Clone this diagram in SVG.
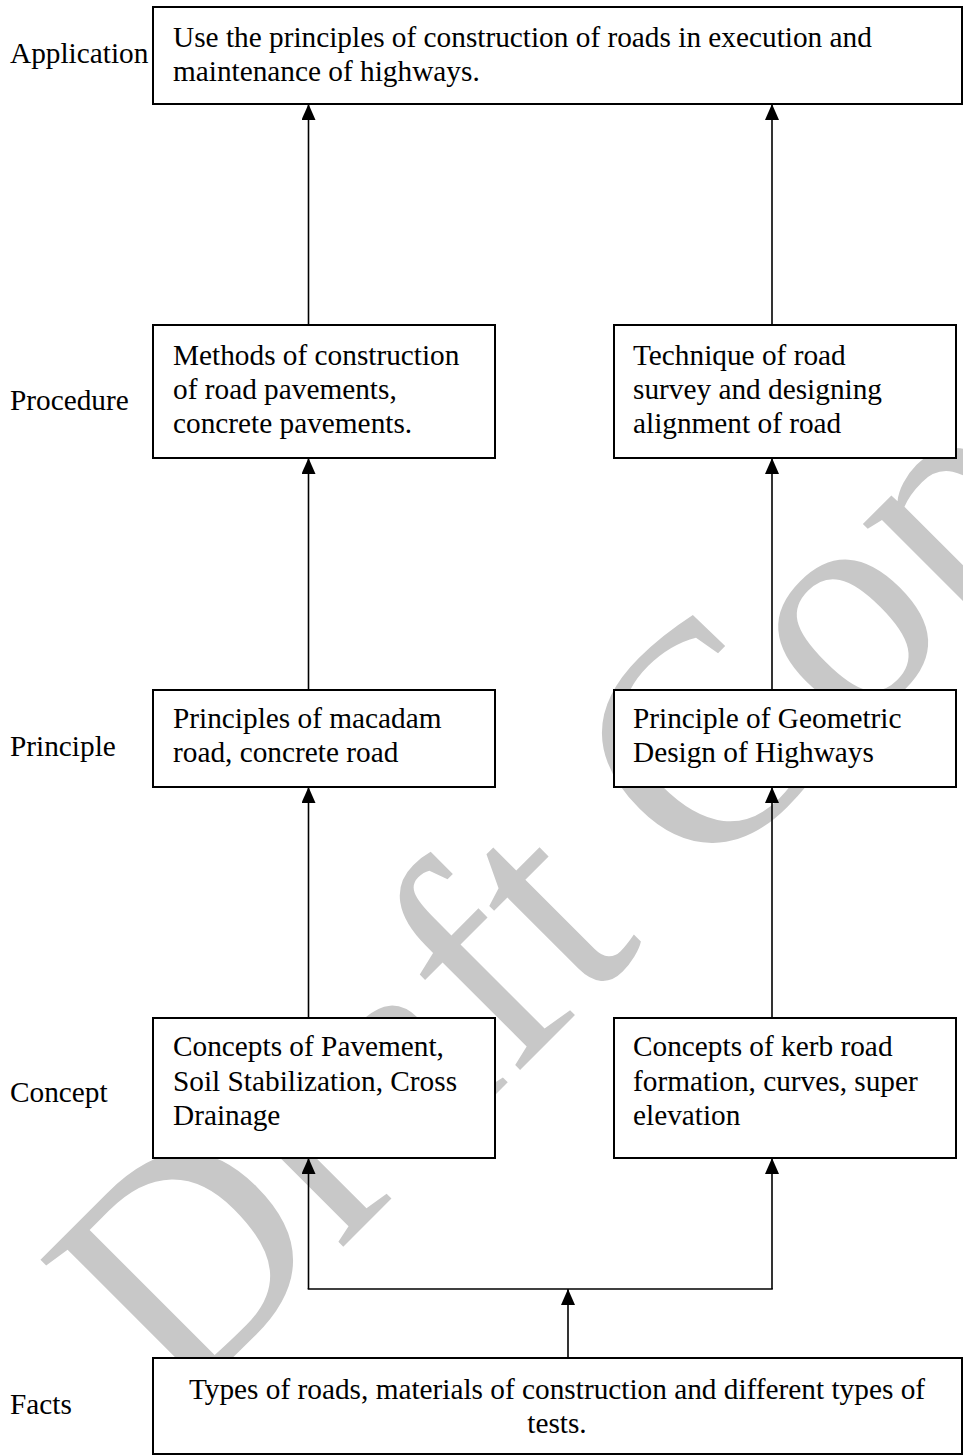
<svg xmlns="http://www.w3.org/2000/svg" width="963" height="1456" viewBox="0 0 963 1456">
<style>
.t{font-family:"Liberation Serif","Times New Roman",serif;font-size:29.3px;fill:#000}
.box{fill:#fff;stroke:#000;stroke-width:2}
.c{stroke:#000;stroke-width:1.6;fill:none}
.wm{font-family:"Liberation Serif","Times New Roman",serif;font-size:313px;fill:#c8c8c8}
</style>
<defs>
<marker id="ah" viewBox="0 0 16 14" refX="16" refY="7" markerWidth="16" markerHeight="14" markerUnits="userSpaceOnUse" orient="auto">
<path d="M0,0 L16,7 L0,14 z" fill="#000"/>
</marker>
</defs>
<rect width="963" height="1456" fill="#fff"/>
<g id="watermark">
<text class="wm" transform="translate(179,1411) rotate(-45)">Draft Copy</text>
</g>
<g id="labels">
<text class="t" x="10" y="63">Application</text>
<text class="t" x="10" y="410">Procedure</text>
<text class="t" x="10" y="756">Principle</text>
<text class="t" x="10" y="1102">Concept</text>
<text class="t" x="10" y="1414">Facts</text>
</g>
<g id="connectors">
<line class="c" x1="308.5" y1="325" x2="308.5" y2="104" marker-end="url(#ah)"/>
<line class="c" x1="308.5" y1="690" x2="308.5" y2="458" marker-end="url(#ah)"/>
<line class="c" x1="308.5" y1="1018" x2="308.5" y2="787" marker-end="url(#ah)"/>
<line class="c" x1="308.5" y1="1289" x2="308.5" y2="1158" marker-end="url(#ah)"/>
<line class="c" x1="772" y1="325" x2="772" y2="104" marker-end="url(#ah)"/>
<line class="c" x1="772" y1="690" x2="772" y2="458" marker-end="url(#ah)"/>
<line class="c" x1="772" y1="1018" x2="772" y2="787" marker-end="url(#ah)"/>
<line class="c" x1="772" y1="1289" x2="772" y2="1158" marker-end="url(#ah)"/>
<line class="c" x1="307.7" y1="1289" x2="772.8" y2="1289"/>
<line class="c" x1="568" y1="1358" x2="568" y2="1289" marker-end="url(#ah)"/>
</g>
<g id="application">
<rect class="box" x="153" y="7" width="809" height="97"/>
<text class="t" x="173" y="47">Use the principles of construction of roads in execution and</text>
<text class="t" x="173" y="81">maintenance of highways.</text>
</g>
<g id="procedure-left">
<rect class="box" x="153" y="325" width="342" height="133"/>
<text class="t" x="173" y="365">Methods of construction</text>
<text class="t" x="173" y="399">of road pavements,</text>
<text class="t" x="173" y="433">concrete pavements.</text>
</g>
<g id="procedure-right">
<rect class="box" x="614" y="325" width="342" height="133"/>
<text class="t" x="633" y="365">Technique of road</text>
<text class="t" x="633" y="399">survey and designing</text>
<text class="t" x="633" y="433">alignment of road</text>
</g>
<g id="principle-left">
<rect class="box" x="153" y="690" width="342" height="97"/>
<text class="t" x="173" y="728">Principles of macadam</text>
<text class="t" x="173" y="762">road, concrete road</text>
</g>
<g id="principle-right">
<rect class="box" x="614" y="690" width="342" height="97"/>
<text class="t" x="633" y="728">Principle of Geometric</text>
<text class="t" x="633" y="762">Design of Highways</text>
</g>
<g id="concept-left">
<rect class="box" x="153" y="1018" width="342" height="140"/>
<text class="t" x="173" y="1056">Concepts of Pavement,</text>
<text class="t" x="173" y="1091">Soil Stabilization, Cross</text>
<text class="t" x="173" y="1125">Drainage</text>
</g>
<g id="concept-right">
<rect class="box" x="614" y="1018" width="342" height="140"/>
<text class="t" x="633" y="1056">Concepts of kerb road</text>
<text class="t" x="633" y="1091">formation, curves, super</text>
<text class="t" x="633" y="1125">elevation</text>
</g>
<g id="facts">
<rect class="box" x="153" y="1358" width="809" height="96"/>
<text class="t" x="557" y="1399" text-anchor="middle">Types of roads, materials of construction and different types of</text>
<text class="t" x="557" y="1433" text-anchor="middle">tests.</text>
</g>
</svg>
